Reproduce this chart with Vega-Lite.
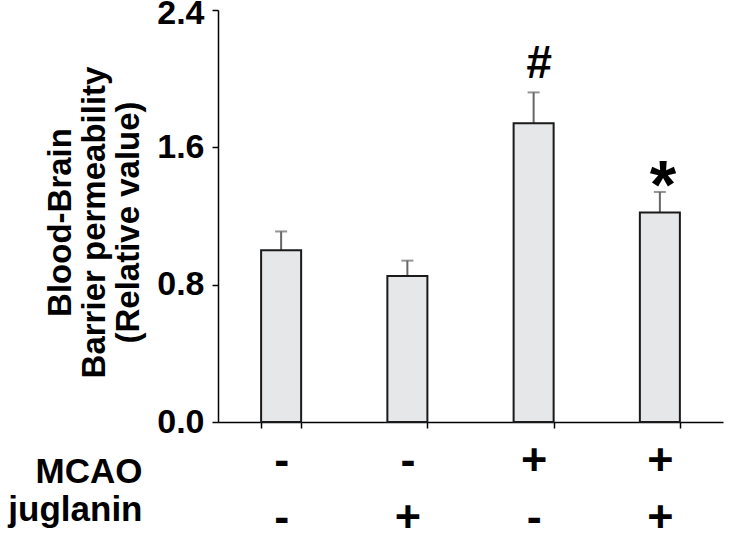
{
  "$schema": "https://vega.github.io/schema/vega-lite/v6.json",
  "width": 505,
  "height": 412,
  "autosize": {"type": "none"},
  "padding": {"left": 218, "top": 10, "right": 12, "bottom": 119},
  "background": "white",
  "config": {"view": {"stroke": null}, "font": "Liberation Sans", "axis": {"grid": false}},
  "data": {"values": [
    {"group": "-|-", "value": 1.0, "hi": 1.11, "sig": ""},
    {"group": "-|+", "value": 0.85, "hi": 0.94, "sig": ""},
    {"group": "+|-", "value": 1.74, "hi": 1.92, "sig": "#"},
    {"group": "+|+", "value": 1.22, "hi": 1.34, "sig": "*"}
  ]},
  "encoding": {
    "x": {
      "field": "group", "type": "nominal", "sort": null,
      "scale": {"paddingInner": 0.683, "paddingOuter": 0.3415},
      "axis": {
        "title": ["MCAO", "juglanin"],
        "titleFontSize": 35, "titleFontWeight": "bold", "titleColor": "black",
        "titleAlign": "right", "titleX": -76, "titleY": 60, "titleBaseline": "alphabetic",
        "titleLineHeight": 38,
        "labelExpr": "isString(datum.value) ? split(datum.value, '|') : ''",
        "labelAngle": 0, "labelFontSize": 45, "labelFontWeight": "bold", "labelColor": "black",
        "labelBaseline": "alphabetic", "labelLineHeight": 57, "labelPadding": 46,
        "tickBand": "extent", "tickSize": 6, "tickColor": "black", "tickWidth": 1.5,
        "domainColor": "black", "domainWidth": 1.5
      }
    }
  },
  "layer": [
    {
      "mark": {"type": "rule", "color": "#666666", "strokeWidth": 2},
      "encoding": {
        "y": {"field": "value", "type": "quantitative"},
        "y2": {"field": "hi"}
      }
    },
    {
      "mark": {"type": "tick", "color": "#666666", "thickness": 2, "size": 12},
      "encoding": {"y": {"field": "hi", "type": "quantitative"}}
    },
    {
      "mark": {"type": "bar", "fill": "#e6e7e9", "stroke": "#1a1a1a", "strokeWidth": 2},
      "encoding": {
        "y": {
          "field": "value", "type": "quantitative",
          "scale": {"domain": [0, 2.4]},
          "axis": {
            "title": ["Blood-Brain", "Barrier permeability", "(Relative value)"],
            "values": [0, 0.8, 1.6, 2.4], "format": ".1f",
            "labelFontSize": 34, "labelFontWeight": "bold", "labelColor": "black",
            "labelOffset": {"condition": {"test": "datum.value > 2.3", "value": 3}, "value": 0},
            "labelPadding": 8, "tickSize": 6, "tickColor": "black", "tickWidth": 1.5,
            "domainColor": "black", "domainWidth": 1.5,
            "titleFontSize": 33, "titleFontWeight": "bold", "titleColor": "black",
            "titleLineHeight": 34, "titleX": -141, "titleY": 212
          }
        }
      }
    },
    {
      "transform": [{"filter": "datum.sig == '#'"}],
      "mark": {"type": "text", "fontSize": 46, "fontWeight": "bold", "fontStyle": "italic", "baseline": "alphabetic", "dy": -14, "dx": 5, "color": "black"},
      "encoding": {
        "y": {"field": "hi", "type": "quantitative"},
        "text": {"field": "sig"}
      }
    },
    {
      "transform": [{"filter": "datum.sig == '*'"}],
      "mark": {"type": "text", "fontSize": 68, "fontWeight": "bold", "baseline": "alphabetic", "dy": 16, "dx": 3, "color": "black"},
      "encoding": {
        "y": {"field": "hi", "type": "quantitative"},
        "text": {"field": "sig"}
      }
    }
  ]
}
